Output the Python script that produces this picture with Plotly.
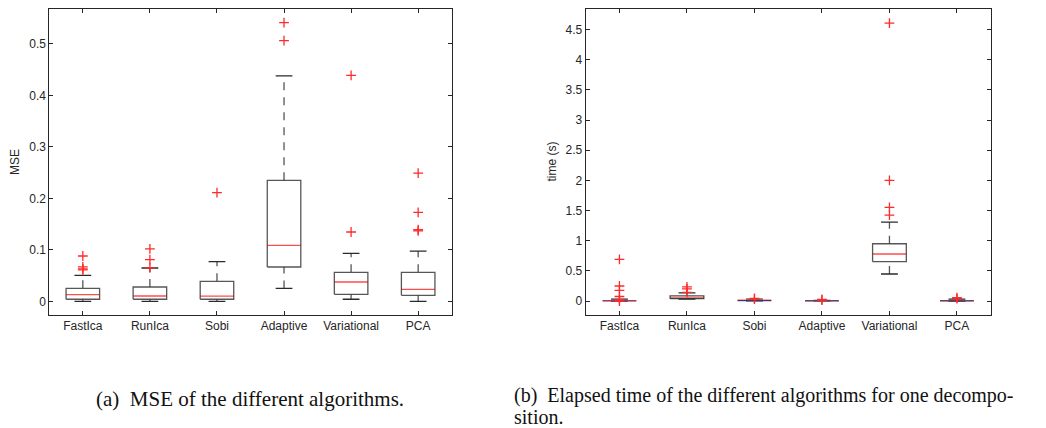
import plotly.graph_objects as go

categories = ["FastIca", "RunIca", "Sobi", "Adaptive", "Variational", "PCA"]

# MSE box statistics (left panel)
mse_lower_whisker = [0.0, 0.0, 0.0, 0.025, 0.004, 0.0]
mse_q1 = [0.004, 0.004, 0.004, 0.0667, 0.0136, 0.0117]
mse_median = [0.0128, 0.0103, 0.010, 0.1088, 0.0375, 0.0233]
mse_q3 = [0.0253, 0.0278, 0.0389, 0.235, 0.0563, 0.0563]
mse_upper_whisker = [0.0505, 0.0647, 0.077, 0.438, 0.0933, 0.0977]
mse_outliers = [
    [0.088, 0.067, 0.063, 0.061],
    [0.102, 0.081, 0.065],
    [0.211],
    [0.5415, 0.5065],
    [0.439, 0.1347],
    [0.249, 0.173, 0.139, 0.137],
]

# Elapsed time box statistics (right panel)
time_lower_whisker = [0.0, 0.033, 0.002, 0.001, 0.448, 0.0]
time_q1 = [0.002, 0.038, 0.008, 0.003, 0.652, 0.002]
time_median = [0.006, 0.052, 0.013, 0.005, 0.78, 0.006]
time_q3 = [0.013, 0.085, 0.020, 0.008, 0.95, 0.012]
time_upper_whisker = [0.03, 0.135, 0.03, 0.012, 1.31, 0.03]
time_outliers = [
    [0.69, 0.249, 0.175, 0.075, 0.02, 0.0],
    [0.235, 0.2, 0.144],
    [0.045, 0.03],
    [0.025, 0.015],
    [4.61, 2.0, 1.554, 1.426],
    [0.055, 0.04],
]

mse_ticks = [0, 0.1, 0.2, 0.3, 0.4, 0.5]
time_ticks = [0, 0.5, 1, 1.5, 2, 2.5, 3, 3.5, 4, 4.5]

mse_box_colors = ["#3a3a3a"] * 6
time_box_colors = ["#7b3060", "#2e2e2e", "#28306a", "#28306a", "#3a3a3a", "#28306a"]

HALF_W = 0.25
CAP_W = 0.125
RED = "#ff2a2a"

fig = go.Figure()


def add_boxes(xa, ya, lw, q1, med, q3, uw, outl, colors):
    wx, wy, cx, cy, mx, my, ox, oy = [], [], [], [], [], [], [], []
    for i in range(len(categories)):
        wx += [i, i, None, i, i, None]
        wy += [q3[i], uw[i], None, lw[i], q1[i], None]
        cx += [i - CAP_W, i + CAP_W, None, i - CAP_W, i + CAP_W, None]
        cy += [uw[i], uw[i], None, lw[i], lw[i], None]
        mx += [i - HALF_W, i + HALF_W, None]
        my += [med[i], med[i], None]
        for v in outl[i]:
            ox.append(i)
            oy.append(v)
    fig.add_trace(go.Scatter(x=wx, y=wy, mode="lines",
                             line=dict(color="#555555", width=1.3, dash="8px,7px"),
                             xaxis=xa, yaxis=ya, showlegend=False, hoverinfo="skip"))
    fig.add_trace(go.Scatter(x=cx, y=cy, mode="lines",
                             line=dict(color="#2a2a2a", width=1.3),
                             xaxis=xa, yaxis=ya, showlegend=False, hoverinfo="skip"))
    fig.add_trace(go.Scatter(x=mx, y=my, mode="lines",
                             line=dict(color="#ff4d4d", width=1.3),
                             xaxis=xa, yaxis=ya, showlegend=False, hoverinfo="skip"))
    for i in range(len(categories)):
        fig.add_trace(go.Scatter(
            x=[i - HALF_W, i + HALF_W, i + HALF_W, i - HALF_W, i - HALF_W],
            y=[q1[i], q1[i], q3[i], q3[i], q1[i]],
            mode="lines", line=dict(color=colors[i], width=1.3),
            opacity=0.85,
            xaxis=xa, yaxis=ya, showlegend=False, hoverinfo="skip"))
    fig.add_trace(go.Scatter(x=ox, y=oy, mode="markers",
                             marker=dict(symbol="cross-thin-open", size=7, color=RED,
                                         line=dict(color=RED, width=1.3)),
                             xaxis=xa, yaxis=ya, showlegend=False, hoverinfo="skip"))


add_boxes("x", "y", mse_lower_whisker, mse_q1, mse_median, mse_q3,
          mse_upper_whisker, mse_outliers, mse_box_colors)
add_boxes("x2", "y2", time_lower_whisker, time_q1, time_median, time_q3,
          time_upper_whisker, time_outliers, time_box_colors)

W, H = 1046, 428
tick_font = dict(family="Liberation Sans, Arial, sans-serif", size=12, color="#262626")
axis_common = dict(showline=True, linecolor="#262626", linewidth=1, mirror="ticks",
                   ticks="inside", ticklen=4, tickcolor="#262626", tickwidth=1,
                   showgrid=False, zeroline=False, tickfont=tick_font, automargin=False)

fig.update_layout(
    width=W, height=H,
    margin=dict(l=0, r=0, t=0, b=0, autoexpand=False),
    paper_bgcolor="white", plot_bgcolor="white",
    xaxis=dict(domain=[49.3 / W, 451.7 / W], range=[-0.5, 5.5],
               tickvals=list(range(6)), ticktext=categories, anchor="y", **axis_common),
    yaxis=dict(domain=[(H - 315) / H, (H - 9.3) / H], range=[-0.0266, 0.5674],
               tickvals=mse_ticks, ticktext=[f"{t:g}" for t in mse_ticks],
               anchor="x", **axis_common),
    xaxis2=dict(domain=[585.7 / W, 990.7 / W], range=[-0.5, 5.5],
                tickvals=list(range(6)), ticktext=categories, anchor="y2", **axis_common),
    yaxis2=dict(domain=[(H - 314.7) / H, (H - 9) / H], range=[-0.227, 4.843],
                tickvals=time_ticks, ticktext=[f"{t:g}" for t in time_ticks],
                anchor="x2", **axis_common),
)

label_font = dict(family="Liberation Sans, Arial, sans-serif", size=12, color="#262626")
cap_font_a = dict(family="Liberation Serif, Times New Roman, serif", size=21, color="#111111")
cap_font_b = dict(family="Liberation Serif, Times New Roman, serif", size=20, color="#111111")

fig.add_annotation(text="MSE", x=15 / W, y=(H - 162) / H, xref="paper", yref="paper",
                   textangle=-90, showarrow=False, font=label_font,
                   xanchor="center", yanchor="middle")
fig.add_annotation(text="time (s)", x=551.5 / W, y=(H - 162) / H, xref="paper", yref="paper",
                   textangle=-90, showarrow=False, font=label_font,
                   xanchor="center", yanchor="middle")
fig.add_annotation(text="(a)  MSE of the different algorithms.", x=94 / W, y=(H - 399) / H,
                   xref="paper", yref="paper", showarrow=False, font=cap_font_a,
                   xanchor="left", yanchor="middle")
fig.add_annotation(text="(b)  Elapsed time of the different algorithms for one decompo-",
                   x=512 / W, y=(H - 395) / H, xref="paper", yref="paper", showarrow=False,
                   font=cap_font_b, xanchor="left", yanchor="middle")
fig.add_annotation(text="sition.", x=512 / W, y=(H - 417) / H, xref="paper", yref="paper",
                   showarrow=False, font=cap_font_b, xanchor="left", yanchor="middle")

fig.write_html("out.html",
               config={"displayModeBar": False},
               post_script="document.body.style.margin='0px';"
                           "document.body.style.overflow='hidden';")
